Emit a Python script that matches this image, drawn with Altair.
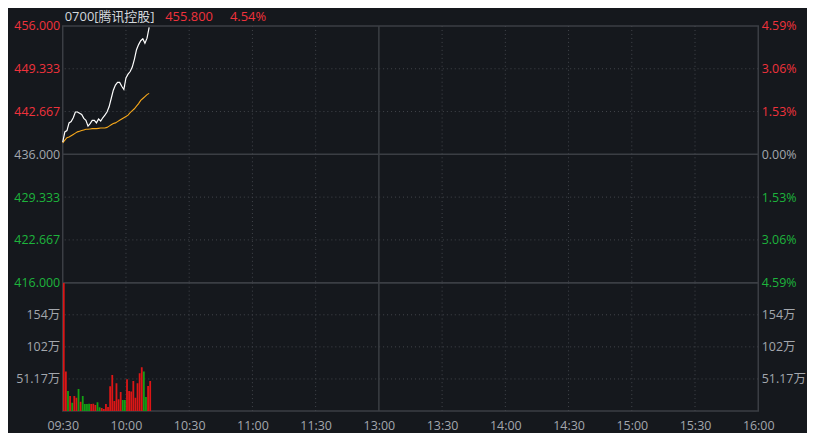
import altair as alt
import pandas as pd

# ---------------- data ----------------
minutes = list(range(42))
price = [437.9, 439.5, 439.7, 440.9, 441.1, 441.7, 442.6, 442.6, 442.4, 442.2,
         441.6, 441.3, 440.4, 440.8, 441.3, 441.3, 440.9, 441.5, 441.2, 441.7,
         442.1, 442.6, 443.4, 444.7, 446.0, 446.8, 447.2, 447.2, 446.6, 446.1,
         447.9, 448.5, 448.9, 449.6, 450.8, 452.3, 453.1, 453.7, 454.0, 453.3,
         454.1, 455.8]
avg_price = [437.8, 438.2, 438.6, 438.7, 438.9, 439.1, 439.3, 439.5, 439.6, 439.7,
             439.8, 439.9, 439.9, 439.95, 440.0, 440.0, 440.0, 440.05, 440.1, 440.1,
             440.1, 440.2, 440.4, 440.6, 440.8, 440.9, 441.1, 441.3, 441.5, 441.7,
             441.9, 442.1, 442.5, 442.8, 443.1, 443.5, 443.9, 444.4, 444.7, 445.0,
             445.3, 445.5]
volume_wan = [204.7, 62.9, 32.0, 24.0, 13.3, 24.0, 21.3, 35.2, 14.9, 24.0,
              11.2, 11.2, 11.7, 11.2, 11.7, 9.6, 13.9, 5.9, 4.8, 3.2,
              11.2, 6.4, 39.5, 57.6, 16.0, 44.3, 18.7, 30.4, 17.6, 17.6,
              50.7, 32.0, 31.0, 48.0, 21.3, 44.3, 60.3, 69.9, 62.9, 22.4,
              40.0, 48.0]
direction = ["u", "u", "d", "u", "d", "u", "u", "d", "u", "d",
             "d", "d", "d", "u", "u", "u", "d", "d", "u", "u",
             "u", "u", "u", "u", "u", "u", "u", "u", "d", "d",
             "u", "u", "u", "u", "u", "u", "u", "u", "d", "d",
             "u", "u"]

header_texts = ["0700[腾讯控股]", "455.800", "4.54%"]
prev_close = 436.0
price_domain = [416.0, 456.0]
price_ticks = [416.0, 422.667, 429.333, 436.0, 442.667, 449.333, 456.0]
price_dotted = [422.667, 429.333, 442.667, 449.333]
vol_domain = [0, 204.68]
vol_ticks = [51.17, 102.34, 153.51]
vol_tick_labels = ["51.17万", "102万", "154万"]
time_ticks = [0, 30, 60, 90, 120, 150, 180, 210, 240, 270, 300, 330]
time_labels = ["09:30", "10:00", "10:30", "11:00", "11:30", "13:00",
               "13:30", "14:00", "14:30", "15:00", "15:30", "16:00"]
time_dotted = [30, 60, 90, 120, 180, 210, 240, 270, 300]
time_solid = [150]

# ---------------- style ----------------
BG = "#15181d"
BORDER = "#3b3e44"
DOT = "#44474d"
RED = "#f0323c"
GREEN = "#1db43c"
GRAY = "#a3a7ad"
TITLE_C = "#d3d7dc"
BAR_RED = "#dc1616"
BAR_GREEN = "#14a014"
FONT = "'Open Sans', 'Noto Sans CJK SC', sans-serif"
W, H1, H2 = 699, 258, 129

px = pd.DataFrame({"m": minutes, "price": price, "avg": avg_price})
vol = pd.DataFrame({"m": minutes, "vol": volume_wan, "dir": direction})

xs = alt.Scale(domain=[0, 330], nice=False, zero=False, padding=0)
ys_p = alt.Scale(domain=price_domain, nice=False, zero=False, padding=0)
ys_v = alt.Scale(domain=vol_domain, nice=False, zero=False, padding=0)

price_color = {
    "condition": [
        {"test": f"datum.value > {prev_close + 0.001}", "value": RED},
        {"test": f"datum.value < {prev_close - 0.001}", "value": GREEN},
    ],
    "value": GRAY,
}

# ---------- price panel ----------
p_hdot = alt.Chart(pd.DataFrame({"y": price_dotted})).mark_rule(
    color=DOT, strokeDash=[1, 3], strokeWidth=1).encode(
    y=alt.Y("y:Q", scale=ys_p, axis=None))
p_hsolid = alt.Chart(pd.DataFrame({"y": [prev_close]})).mark_rule(
    color=BORDER, strokeWidth=1.5).encode(
    y=alt.Y("y:Q", scale=ys_p, axis=None))
p_vdot = alt.Chart(pd.DataFrame({"x": time_dotted})).mark_rule(
    color=DOT, strokeDash=[1, 3], strokeWidth=1).encode(
    x=alt.X("x:Q", scale=xs, axis=None))
p_vsolid = alt.Chart(pd.DataFrame({"x": time_solid})).mark_rule(
    color=BORDER, strokeWidth=1.5).encode(
    x=alt.X("x:Q", scale=xs, axis=None))

left_axis_p = alt.Axis(values=price_ticks, format=".3f", ticks=False, domain=False,
                       grid=False, labelPadding=3, labelFontSize=12.5,
                       labelFont=FONT, labelColor=price_color, title=None,
                       labelBound=False, labelFlush=False, labelOverlap=False)
right_axis_p = alt.Axis(values=price_ticks, orient="right", ticks=False, domain=False,
                        grid=False, labelPadding=3, labelFontSize=12.5,
                        labelFont=FONT, labelColor=price_color, title=None,
                        labelExpr=f"format(abs(datum.value - {prev_close}) / {prev_close} * 100, '.2f') + '%'",
                        labelBound=False, labelFlush=False, labelOverlap=False)

avg_line = alt.Chart(px).mark_line(color="#f7a81b", strokeWidth=1.1).encode(
    x=alt.X("m:Q", scale=xs, axis=None),
    y=alt.Y("avg:Q", scale=ys_p, axis=right_axis_p))
price_line = alt.Chart(px).mark_line(color="#ffffff", strokeWidth=1.2).encode(
    x=alt.X("m:Q", scale=xs, axis=None),
    y=alt.Y("price:Q", scale=ys_p, axis=left_axis_p))

def header(i, xpos, color):
    return alt.Chart(pd.DataFrame({"t": [header_texts[i]]})).mark_text(
        align="left", baseline="middle", font=FONT, fontSize=13, color=color).encode(
        text="t:N", x=alt.value(xpos), y=alt.value(-9))

price_panel = alt.layer(
    p_hdot, p_hsolid, p_vdot, p_vsolid, avg_line, price_line,
    header(0, 2, TITLE_C), header(1, 103, RED), header(2, 168, RED)
).resolve_axis(x="independent", y="independent").properties(width=W, height=H1)

# ---------- volume panel ----------
lookup = "[" + ",".join(f"'{s}'" for s in vol_tick_labels) + "]"
vals = "[" + ",".join(str(v) for v in vol_ticks) + "]"
vol_label_expr = f"{lookup}[indexof({vals}, datum.value)]"
tl = "[" + ",".join(f"'{s}'" for s in time_labels) + "]"

left_axis_v = alt.Axis(values=vol_ticks, labelExpr=vol_label_expr, ticks=False,
                       domain=False, grid=False, labelPadding=3, labelFontSize=12.5,
                       labelFont=FONT, labelColor=GRAY, title=None,
                       labelBound=False, labelFlush=False, labelOverlap=False)
right_axis_v = alt.Axis(values=vol_ticks, labelExpr=vol_label_expr, orient="right",
                        ticks=False, domain=False, grid=False, labelPadding=3,
                        labelFontSize=12.5, labelFont=FONT, labelColor=GRAY, title=None,
                        labelBound=False, labelFlush=False, labelOverlap=False)
x_axis = alt.Axis(values=time_ticks, labelExpr=f"{tl}[round(datum.value / 30)]",
                  ticks=False, domain=False, grid=False, labelPadding=9,
                  labelFontSize=12.5, labelFont=FONT, labelColor=GRAY, title=None,
                  labelFlush=False, labelBound=False, labelOverlap=False)

v_hdot = alt.Chart(pd.DataFrame({"y": vol_ticks})).mark_rule(
    color=DOT, strokeDash=[1, 3], strokeWidth=1).encode(
    y=alt.Y("y:Q", scale=ys_v, axis=right_axis_v))
v_vdot = alt.Chart(pd.DataFrame({"x": time_dotted})).mark_rule(
    color=DOT, strokeDash=[1, 3], strokeWidth=1).encode(
    x=alt.X("x:Q", scale=xs, axis=None))
v_vsolid = alt.Chart(pd.DataFrame({"x": time_solid})).mark_rule(
    color=BORDER, strokeWidth=1.5).encode(
    x=alt.X("x:Q", scale=xs, axis=None))
bars = alt.Chart(vol).transform_calculate(xm="datum.m + 0.5").mark_bar(
    width=1.8, clip=True).encode(
    x=alt.X("xm:Q", scale=xs, axis=x_axis),
    y=alt.Y("vol:Q", scale=ys_v, axis=left_axis_v),
    color=alt.Color("dir:N", scale=alt.Scale(domain=["u", "d"], range=[BAR_RED, BAR_GREEN]),
                    legend=None))

vol_panel = alt.layer(v_hdot, v_vdot, v_vsolid, bars).resolve_axis(
    x="independent", y="independent").properties(width=W, height=H2)

chart = alt.vconcat(price_panel, vol_panel, spacing=0, bounds="flush").properties(
    background=BG,
    padding={"left": 5, "top": 1, "right": 0, "bottom": 0},
).configure_view(stroke=BORDER, strokeWidth=1.5)

chart.save("out.html", embed_options={"renderer": "svg", "actions": False})
